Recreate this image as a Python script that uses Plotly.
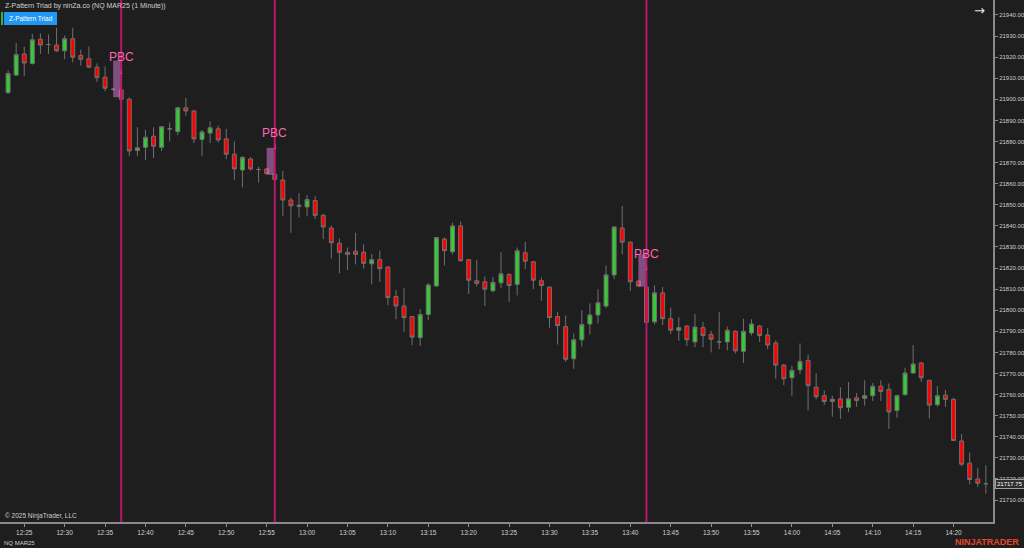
import pandas as pd
import plotly.graph_objects as go

# ---------------- data ----------------
times = pd.date_range("2025-03-10 12:23", periods=122, freq="1min")

opens = [21903.25, 21911.5, 21921.5, 21917, 21928.5, 21926, 21925.75, 21923, 21928.75, 21920.75,
         21919.25, 21915.25, 21910.5, 21904.75, 21904.5, 21900, 21875.75, 21877.25, 21882.5, 21877.25,
         21886, 21884.75, 21896, 21894.5, 21881, 21884, 21886, 21881.25, 21874, 21866.5,
         21871.75, 21866.75, 21867, 21864.5, 21861.75, 21852.25, 21849.25, 21849, 21852, 21845,
         21839, 21831.75, 21827.5, 21828, 21827.5, 21822, 21824, 21820.5, 21806.5, 21802,
         21797, 21787, 21798, 21811.5, 21833.75, 21827.75, 21840, 21824, 21814, 21813.5,
         21809.25, 21813, 21817, 21812.25, 21827.25, 21823, 21814, 21811, 21797, 21792.25,
         21777, 21786, 21793.5, 21797.75, 21802, 21816.75, 21839, 21832.25, 21813.75, 21811,
         21794.5, 21808.25, 21796, 21790.5, 21792.5, 21785, 21791.75, 21788.5, 21785, 21785,
         21790, 21780.5, 21789.25, 21792.5, 21788.25, 21784.5, 21774, 21768, 21771.75, 21776.25,
         21763.5, 21759.5, 21756.75, 21758, 21754, 21758.5, 21758.25, 21759.5, 21764, 21762.5,
         21752.5, 21760, 21770.25, 21775, 21766.75, 21755.25, 21759.75, 21757.75, 21738, 21727.5,
         21720, 21717.75]
highs = [21913.75, 21926.75, 21925, 21931, 21931.25, 21930.75, 21934, 21930.25, 21934, 21923.5,
         21925, 21917, 21915.5, 21905.5, 21908.25, 21901, 21886.75, 21885.5, 21886.75, 21887.25,
         21889, 21896.5, 21900.75, 21895, 21885.5, 21889.5, 21887.5, 21886, 21880, 21873,
         21872.5, 21868, 21867.25, 21865.5, 21866, 21853.5, 21855.5, 21854.5, 21854, 21845.75,
         21840.25, 21834, 21829.75, 21836.75, 21831.25, 21826.75, 21828.25, 21820.75, 21809.5, 21810.5,
         21797.25, 21800.5, 21813, 21834.75, 21834.5, 21841.5, 21842, 21824.25, 21824, 21816,
         21815.75, 21827.5, 21817.5, 21829.75, 21832.5, 21823.25, 21815.5, 21811.25, 21799.25, 21797.5,
         21789, 21800, 21803.25, 21810, 21821.25, 21839.75, 21849.5, 21832.75, 21814.5, 21815.25,
         21811.75, 21811, 21801.25, 21796.75, 21793, 21798.25, 21794.5, 21790.25, 21799.25, 21792.25,
         21790.5, 21796, 21795.75, 21793, 21791.5, 21785.75, 21774.5, 21773.75, 21784.25, 21779,
         21770.25, 21762, 21759.5, 21763.5, 21766, 21760.75, 21766.75, 21765.5, 21766.75, 21765.25,
         21760, 21772.75, 21783.5, 21775.5, 21767, 21764, 21762.25, 21758.5, 21741.25, 21732.5,
         21725.25, 21726.5]
lows = [21902.5, 21911, 21911, 21916.5, 21921.5, 21921.5, 21922.5, 21919, 21917.5, 21916,
        21914.75, 21908.25, 21903.75, 21904, 21897, 21873, 21873, 21871.25, 21872.25, 21875.5,
        21880, 21883, 21892.25, 21879.25, 21873, 21879.25, 21879.5, 21871.75, 21861.75, 21858.25,
        21866.25, 21860.5, 21864.5, 21861.25, 21844.75, 21836.75, 21844, 21844.5, 21843.25, 21833.75,
        21824.5, 21817.5, 21819, 21821.75, 21819.75, 21812.25, 21813.5, 21802.5, 21795.75, 21789.75,
        21783.5, 21783, 21795.25, 21811.25, 21821.25, 21826.5, 21823, 21807.75, 21811.25, 21802,
        21808.5, 21810.5, 21804, 21807, 21819.5, 21810, 21804.5, 21791.75, 21783.75, 21775.5,
        21772.25, 21782.75, 21788.5, 21793.75, 21801, 21814.75, 21826.5, 21809.25, 21811, 21794,
        21793.25, 21793, 21788.75, 21785.5, 21783, 21782.5, 21782.5, 21780, 21781.5, 21781,
        21779.5, 21775, 21788, 21785, 21781.5, 21767.5, 21764.5, 21759.5, 21769.75, 21752.5,
        21757.75, 21755, 21749.5, 21748.5, 21751.75, 21754.25, 21754.75, 21757, 21757, 21743.75,
        21749, 21759.5, 21769.75, 21766, 21748.75, 21754.25, 21754.25, 21738, 21726, 21717.5,
        21716.25, 21713]
closes = [21912.25, 21921.25, 21917.25, 21928.25, 21925.75, 21926, 21923, 21928.75, 21920, 21919,
          21915.25, 21910.25, 21905.25, 21904.75, 21900, 21875.5, 21877, 21882, 21877.75, 21887,
          21886, 21896, 21894.5, 21881.25, 21884.5, 21886.5, 21880.75, 21874, 21867, 21872.5,
          21867, 21866.75, 21864.75, 21862, 21852.25, 21849.5, 21849.75, 21852.5, 21845, 21839.5,
          21832, 21827.5, 21826.5, 21826.5, 21822.25, 21824, 21819.75, 21806, 21802, 21796.5,
          21787.25, 21798, 21812, 21834.5, 21828.25, 21840, 21823.5, 21814.25, 21812.75, 21810,
          21813.25, 21817.25, 21811.75, 21828.25, 21823.25, 21814.25, 21811.75, 21796.5, 21792.75, 21776.75,
          21786, 21793.25, 21797.75, 21803.5, 21816.75, 21839.5, 21832.25, 21813.5, 21811.5, 21794.25,
          21808.25, 21796, 21790.5, 21791.75, 21786, 21792, 21788, 21786.25, 21785, 21790.5,
          21780.75, 21790, 21793.5, 21788, 21783.5, 21774, 21767.5, 21771.5, 21775.75, 21764.25,
          21759, 21756.75, 21757.75, 21753.75, 21758, 21757.25, 21759.5, 21764, 21761.5, 21751.75,
          21759.5, 21770.25, 21774.5, 21768, 21755, 21759.5, 21757.75, 21738.25, 21727, 21719.75,
          21718, 21717.75]

# PBC signals
pbc_signal_times = ["2025-03-10 12:37", "2025-03-10 12:56", "2025-03-10 13:42"]
pbc_box_start = ["2025-03-10 12:36", "2025-03-10 12:55", "2025-03-10 13:41"]
pbc_box_top = [21918.4, 21877.0, 21826.5]
pbc_box_bottom = [21901.0, 21864.2, 21811.2]
pbc_label_price = [21919.9, 21884.2, 21826.7]

last_price = closes[-1]
y_ticks = list(range(21710, 21950, 10))

# ---------------- layout helpers ----------------
W, H = 1024, 548
PL, PR, PT, PB = 0, 993, 0, 522


def fx(px):
    return (px - PL) / (PR - PL)


def fy(py):
    return 1 - (py - PT) / (PB - PT)


BG = "#1e1e1e"
TXT = "#cfcfcf"
FONT = "Liberation Sans"

fig = go.Figure()
fig.add_trace(go.Candlestick(
    x=times, open=opens, high=highs, low=lows, close=closes,
    increasing=dict(fillcolor="#32CD32", line=dict(color="#707070", width=1)),
    decreasing=dict(fillcolor="#FF0000", line=dict(color="#707070", width=1)),
    whiskerwidth=0, showlegend=False, hoverinfo="skip",
))

shapes = []
annotations = []
for t, t0, top, bot, lp in zip(pbc_signal_times, pbc_box_start, pbc_box_top, pbc_box_bottom, pbc_label_price):
    shapes.append(dict(type="rect", xref="x", yref="y", x0=t0, x1=t, y0=bot, y1=top,
                       fillcolor="rgba(210,120,205,0.55)", line=dict(width=0), layer="above"))
    shapes.append(dict(type="line", xref="x", yref="paper", x0=t, x1=t, y0=0, y1=1,
                       line=dict(color="#b8176a", width=2), layer="above"))
    annotations.append(dict(x=t, y=lp, xref="x", yref="y", text="PBC", showarrow=False,
                            font=dict(family=FONT, size=12, color="#ff66b5"),
                            xanchor="center", yanchor="middle"))
    annotations.append(dict(x=t, y=lp, xref="x", yref="y", text="↓", showarrow=False,
                            yshift=-14, font=dict(family=FONT, size=8, color="#ff66b5"),
                            xanchor="center", yanchor="middle"))

# indicator button
shapes.append(dict(type="rect", xref="paper", yref="paper", x0=fx(4), x1=fx(57), y0=fy(25), y1=fy(12),
                   fillcolor="#2196F3", line=dict(width=0)))
shapes.append(dict(type="rect", xref="paper", yref="paper", x0=fx(1), x1=fx(3), y0=fy(25), y1=fy(12),
                   fillcolor="#3cb043", line=dict(width=0)))

annotations += [
    dict(x=fx(3), y=fy(6), xref="paper", yref="paper", text="Z-Pattern Triad by ninZa.co (NQ MAR25 (1 Minute))",
         showarrow=False, xanchor="left", yanchor="middle", font=dict(family=FONT, size=7, color=TXT)),
    dict(x=fx(30.5), y=fy(18.5), xref="paper", yref="paper", text="Z-Pattern Triad",
         showarrow=False, xanchor="center", yanchor="middle", font=dict(family=FONT, size=6.5, color="white")),
    dict(x=fx(979), y=fy(11), xref="paper", yref="paper", text="→",
         showarrow=False, xanchor="center", yanchor="middle", font=dict(family="DejaVu Sans", size=13, color="#e0e0e0")),
    dict(x=fx(3), y=fy(516), xref="paper", yref="paper", text="© 2025 NinjaTrader, LLC",
         showarrow=False, xanchor="left", yanchor="middle", font=dict(family=FONT, size=6.5, color=TXT)),
    dict(x=fx(2), y=fy(543), xref="paper", yref="paper", text="NQ MAR25",
         showarrow=False, xanchor="left", yanchor="middle", font=dict(family=FONT, size=6, color=TXT)),
    dict(x=fx(1021), y=fy(542), xref="paper", yref="paper", text="<b>NINJATRADER</b>",
         showarrow=False, xanchor="right", yanchor="middle", font=dict(family=FONT, size=9, color="#e8472c")),
    dict(x=fx(995), y=last_price, xref="paper", yref="y", text=f"{last_price:.2f}",
         showarrow=False, xanchor="left", yanchor="middle", bgcolor="#2e2e2e", bordercolor="#a0a0a0",
         borderwidth=1, borderpad=1, font=dict(family=FONT, size=6, color="white")),
]

fig.update_layout(
    width=W, height=H,
    margin=dict(l=PL, r=W - PR, t=PT, b=H - PB, autoexpand=False),
    paper_bgcolor=BG, plot_bgcolor=BG,
    shapes=shapes, annotations=annotations,
    showlegend=False, hovermode=False,
    xaxis=dict(
        type="date", range=["2025-03-10 12:22:00", "2025-03-10 14:24:53"],
        rangeslider=dict(visible=False),
        tick0="2025-03-10 12:25", dtick=300000, tickformat="%H:%M",
        showgrid=False, zeroline=False,
        showline=True, linecolor="#8a8a8a", linewidth=2,
        ticks="outside", ticklen=3, tickcolor="#8a8a8a",
        tickfont=dict(family=FONT, size=6.5, color=TXT),
    ),
    yaxis=dict(
        side="right", range=[21699.6, 21947.1],
        tickmode="array", tickvals=y_ticks, ticktext=[f"{v:.2f}" for v in y_ticks],
        showgrid=False, zeroline=False,
        showline=True, linecolor="#8a8a8a", linewidth=2,
        ticks="outside", ticklen=3, tickcolor="#8a8a8a", ticklabelstandoff=0,
        tickfont=dict(family=FONT, size=6, color=TXT),
    ),
)

fig.write_html(
    "out.html",
    config={"displayModeBar": False},
    post_script="document.body.style.margin='0';document.body.style.background='#1e1e1e';",
)
